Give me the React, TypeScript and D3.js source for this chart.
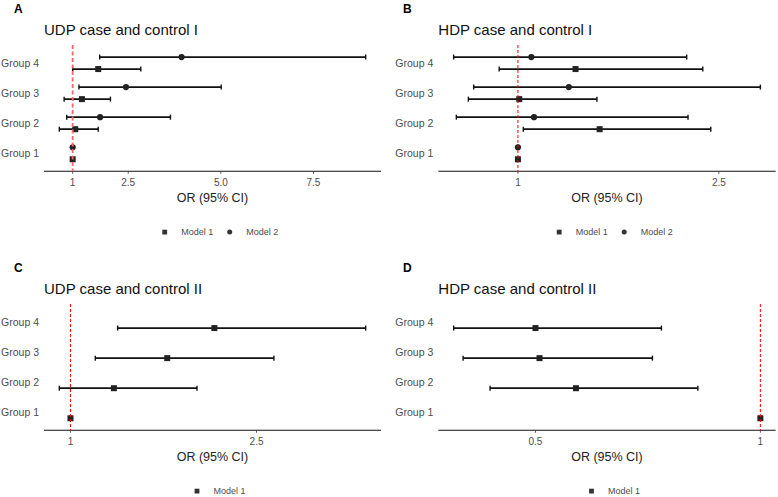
import React, { useRef, useEffect } from 'react';
import * as d3 from 'd3';

// rows, bottom to top
const groups = ["Group 1", "Group 2", "Group 3", "Group 4"];

// A: UDP case and control I
const udpIModel1Or = [1, 1.07, 1.25, 1.69];
const udpIModel1Low = [1, 0.64, 0.77, 1.0];
const udpIModel1High = [1, 1.69, 2.02, 2.84];
const udpIModel2Or = [1, 1.74, 2.44, 3.94];
const udpIModel2Low = [1, 0.84, 1.17, 1.73];
const udpIModel2High = [1, 3.64, 5.01, 8.91];

// B: HDP case and control I
const hdpIModel1Or = [1, 1.61, 1.01, 1.43];
const hdpIModel1Low = [1, 1.04, 0.63, 0.86];
const hdpIModel1High = [1, 2.44, 1.59, 2.38];
const hdpIModel2Or = [1, 1.12, 1.38, 1.10];
const hdpIModel2Low = [1, 0.54, 0.67, 0.52];
const hdpIModel2High = [1, 2.27, 2.81, 2.26];

// C: UDP case and control II
const udpIIModel1Or = [1, 1.35, 1.78, 2.16];
const udpIIModel1Low = [1, 0.91, 1.20, 1.38];
const udpIIModel1High = [1, 2.02, 2.64, 3.38];

// D: HDP case and control II
const hdpIIModel1Or = [1, 0.59, 0.509, 0.50];
const hdpIIModel1Low = [1, 0.399, 0.339, 0.318];
const hdpIIModel1High = [1, 0.861, 0.76, 0.78];

const ticksA = [1, 2.5, 5, 7.5];
const tickLabelsA = ["1", "2.5", "5.0", "7.5"];
const ticksBC = [1, 2.5];
const tickLabelsBC = ["1", "2.5"];
const ticksD = [0.5, 1];
const tickLabelsD = ["0.5", "1"];

interface Series {
    name: string;
    shape: "square" | "circle";
    or: number[];
    low: number[];
    high: number[];
}

interface Panel {
    letter: string;
    title: string;
    ox: number;
    oy: number;
    left: number;
    right: number;
    ticks: number[];
    tickLabels: string[];
    series: Series[];
    refColor: string;
    refWidth: number;
    refDash: string;
}

const model1 = (or: number[], low: number[], high: number[]): Series =>
    ({ name: "Model 1", shape: "square", or, low, high });
const model2 = (or: number[], low: number[], high: number[]): Series =>
    ({ name: "Model 2", shape: "circle", or, low, high });

const panels: Panel[] = [
    {
        letter: "A", title: "UDP case and control I", ox: 0, oy: 0, left: 44, right: 381,
        ticks: ticksA, tickLabels: tickLabelsA,
        series: [model1(udpIModel1Or, udpIModel1Low, udpIModel1High), model2(udpIModel2Or, udpIModel2Low, udpIModel2High)],
        refColor: "#f46a6a", refWidth: 1.8, refDash: "4,2.5",
    },
    {
        letter: "B", title: "HDP case and control I", ox: 389, oy: 0, left: 49.3, right: 386.7,
        ticks: ticksBC, tickLabels: tickLabelsBC,
        series: [model1(hdpIModel1Or, hdpIModel1Low, hdpIModel1High), model2(hdpIModel2Or, hdpIModel2Low, hdpIModel2High)],
        refColor: "#ff0000", refWidth: 1, refDash: "3,2",
    },
    {
        letter: "C", title: "UDP case and control II", ox: 0, oy: 259, left: 44, right: 381,
        ticks: ticksBC, tickLabels: tickLabelsBC,
        series: [model1(udpIIModel1Or, udpIIModel1Low, udpIIModel1High)],
        refColor: "#ff0000", refWidth: 1, refDash: "3,2",
    },
    {
        letter: "D", title: "HDP case and control II", ox: 389, oy: 259, left: 49.3, right: 386.7,
        ticks: ticksD, tickLabels: tickLabelsD,
        series: [model1(hdpIIModel1Or, hdpIIModel1Low, hdpIIModel1High)],
        refColor: "#ff0000", refWidth: 1, refDash: "3,2",
    },
];

const FONT = "'Liberation Sans', Arial, sans-serif";
const TOP = 45;
const BOTTOM = 171.3;

export default function App() {
    const svgRef = useRef<SVGSVGElement>(null);

    useEffect(() => {
        if (!svgRef.current) return;
        const svg = d3.select(svgRef.current);
        svg.selectAll("*").remove();
        svg.append("rect").attr("width", 778).attr("height", 497).attr("fill", "#fff");

        panels.forEach(p => {
            const g = svg.append("g").attr("transform", `translate(${p.ox},${p.oy})`);

            const lo = d3.min(p.series, s => d3.min(s.low)) as number;
            const hi = d3.max(p.series, s => d3.max(s.high)) as number;
            const pad = (hi - lo) * 0.05;
            const x = d3.scaleLinear().domain([lo - pad, hi + pad]).range([p.left, p.right]);
            const y = d3.scalePoint<string>().domain([...groups].reverse()).range([TOP, BOTTOM]).padding(0.6);
            const dodge = y.step() * 0.2;
            const center = (p.left + p.right) / 2;

            g.append("text")
                .attr("x", 14).attr("y", 12.7)
                .attr("font-family", FONT).attr("font-size", 12).attr("font-weight", "bold")
                .text(p.letter);

            g.append("text")
                .attr("x", p.left).attr("y", 35)
                .attr("font-family", FONT).attr("font-size", 15).attr("fill", "#111")
                .text(p.title);

            // group labels
            g.selectAll("text.ylab")
                .data(groups)
                .join("text")
                .attr("class", "ylab")
                .attr("x", p.left - 5)
                .attr("y", d => (y(d) as number) + 3.8)
                .attr("text-anchor", "end")
                .attr("font-family", FONT).attr("font-size", 10.5).attr("fill", "#4d4d4d")
                .text(d => d);

            // x axis
            g.append("line")
                .attr("x1", p.left).attr("x2", p.right)
                .attr("y1", BOTTOM).attr("y2", BOTTOM)
                .attr("stroke", "#111").attr("stroke-width", 1.1);
            p.ticks.forEach((t, i) => {
                g.append("line")
                    .attr("x1", x(t)).attr("x2", x(t))
                    .attr("y1", BOTTOM).attr("y2", BOTTOM + 2.5)
                    .attr("stroke", "#333").attr("stroke-width", 0.8);
                g.append("text")
                    .attr("x", x(t)).attr("y", BOTTOM + 14.2)
                    .attr("text-anchor", "middle")
                    .attr("font-family", FONT).attr("font-size", 10).attr("fill", "#4d4d4d")
                    .text(p.tickLabels[i]);
            });
            g.append("text")
                .attr("x", center).attr("y", BOTTOM + 30.5)
                .attr("text-anchor", "middle")
                .attr("font-family", FONT).attr("font-size", 12.5).attr("fill", "#222")
                .text("OR (95% CI)");

            // error bars and points
            p.series.forEach(s => {
                const off = s.shape === "square" ? dodge : -dodge;
                const sg = g.append("g");
                groups.forEach((grp, i) => {
                    const yy = (y(grp) as number) + off;
                    sg.append("line")
                        .attr("x1", x(s.low[i])).attr("x2", x(s.high[i]))
                        .attr("y1", yy).attr("y2", yy)
                        .attr("stroke", "#111").attr("stroke-width", 1.7);
                    [s.low[i], s.high[i]].forEach(v => {
                        sg.append("line")
                            .attr("x1", x(v)).attr("x2", x(v))
                            .attr("y1", yy - 2.5).attr("y2", yy + 2.5)
                            .attr("stroke", "#111").attr("stroke-width", 1.4);
                    });
                    if (s.shape === "square") {
                        sg.append("rect")
                            .attr("x", x(s.or[i]) - 3).attr("y", yy - 3)
                            .attr("width", 6).attr("height", 6)
                            .attr("fill", "#222");
                    } else {
                        sg.append("circle")
                            .attr("cx", x(s.or[i])).attr("cy", yy).attr("r", 3.1)
                            .attr("fill", "#222");
                    }
                });
            });

            // reference line at OR = 1
            g.append("line")
                .attr("x1", x(1)).attr("x2", x(1))
                .attr("y1", TOP).attr("y2", BOTTOM)
                .attr("stroke", p.refColor).attr("stroke-width", p.refWidth)
                .attr("stroke-dasharray", p.refDash);

            // legend
            const ly = BOTTOM + 60.8;
            const startX = p.series.length === 2 ? center - 47.8 : center - 15.5;
            p.series.forEach((s, i) => {
                const lx = startX + i * 65;
                if (s.shape === "square") {
                    g.append("rect")
                        .attr("x", lx - 2.4).attr("y", ly - 2.4)
                        .attr("width", 4.8).attr("height", 4.8).attr("fill", "#333");
                } else {
                    g.append("circle").attr("cx", lx).attr("cy", ly).attr("r", 2.5).attr("fill", "#333");
                }
                g.append("text")
                    .attr("x", lx + 16.5).attr("y", ly + 3.2)
                    .attr("font-family", FONT).attr("font-size", 9).attr("fill", "#4d4d4d")
                    .text(s.name);
            });
        });
    }, []);

    return (
        <svg
            ref={svgRef}
            width={778}
            height={497}
            viewBox="0 0 778 497"
            style={{ position: "absolute", left: 0, top: 0 }}
        />
    );
}
